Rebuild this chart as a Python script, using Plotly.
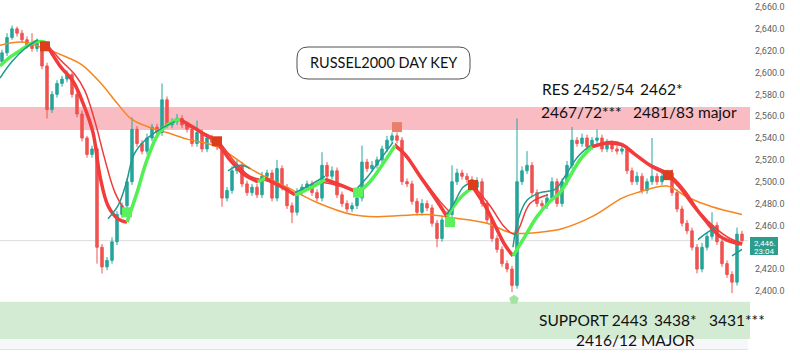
import plotly.graph_objects as go

# ---------------- data ----------------
FIRST_OPEN = 2610
CLOSE = [
    2618, 2632, 2640, 2636, 2630, 2625, 2622, 2628, 2606, 2566,
    2580, 2590, 2594, 2598, 2580, 2562, 2540, 2525, 2530, 2440,
    2422, 2428, 2445, 2470, 2478, 2500, 2548, 2535, 2528, 2540,
    2550, 2545, 2575, 2552, 2555, 2558, 2552, 2548, 2535, 2545,
    2530, 2540, 2536, 2532, 2485, 2492, 2510, 2515, 2498, 2490,
    2495, 2488, 2505, 2508, 2485, 2512, 2495, 2478, 2472, 2490,
    2495, 2498, 2490, 2485, 2515, 2505, 2510, 2488, 2480, 2475,
    2478, 2485, 2518, 2512, 2515, 2520, 2530, 2538, 2542, 2538,
    2500, 2498, 2482, 2472, 2480, 2476, 2462, 2448, 2465, 2470,
    2500, 2508, 2505, 2502, 2495, 2500, 2480, 2465, 2448, 2438,
    2425, 2420, 2405, 2500, 2510, 2515, 2490, 2480, 2478, 2485,
    2500, 2480, 2500, 2515, 2538, 2535, 2540, 2532, 2538, 2540,
    2530, 2535, 2530, 2528, 2530, 2510, 2500, 2505, 2492, 2500,
    2505, 2500, 2505, 2508, 2490, 2475, 2462, 2455, 2440, 2420,
    2440, 2450, 2460, 2445, 2425, 2415, 2408, 2452, 2446,
]
UPPER_WICK = [
    3, 4, 3, 2, 3, 3, 11, 3, 2, 3,
    3, 3, 3, 4, 2, 3, 3, 2, 3, 2,
    3, 3, 4, 3, 3, 3, 11, 3, 3, 4,
    3, 3, 15, 3, 3, 4, 3, 3, 3, 11,
    3, 4, 3, 3, 2, 3, 4, 5, 3, 3,
    3, 3, 4, 3, 3, 8, 3, 3, 3, 4,
    3, 3, 3, 3, 12, 3, 4, 3, 3, 3,
    3, 3, 15, 3, 4, 3, 3, 4, 3, 3,
    3, 3, 3, 3, 4, 3, 3, 3, 4, 3,
    15, 4, 3, 3, 3, 4, 3, 3, 3, 3,
    3, 3, 3, 58, 4, 13, 3, 3, 3, 4,
    4, 3, 3, 4, 12, 3, 4, 3, 3, 8,
    3, 4, 3, 3, 4, 3, 3, 4, 3, 3,
    35, 3, 4, 3, 3, 3, 3, 3, 3, 3,
    4, 3, 12, 3, 3, 3, 3, 6, 3,
]
LOWER_WICK = [
    3, 3, 2, 3, 3, 3, 3, 3, 3, 8,
    3, 3, 3, 3, 3, 3, 3, 3, 3, 15,
    6, 3, 3, 3, 3, 3, 3, 3, 3, 3,
    3, 3, 3, 3, 3, 3, 3, 3, 3, 3,
    3, 3, 3, 3, 8, 3, 3, 3, 3, 3,
    3, 3, 3, 3, 3, 3, 3, 3, 10, 3,
    3, 3, 3, 3, 3, 3, 3, 3, 3, 3,
    3, 3, 3, 3, 3, 3, 3, 3, 3, 3,
    3, 3, 3, 3, 3, 3, 3, 8, 3, 3,
    3, 3, 3, 3, 3, 3, 3, 3, 3, 3,
    3, 3, 6, 3, 3, 3, 3, 3, 3, 3,
    3, 3, 3, 3, 3, 3, 3, 3, 3, 3,
    3, 3, 3, 3, 3, 3, 3, 3, 3, 3,
    3, 3, 3, 3, 3, 3, 3, 3, 3, 4,
    3, 3, 3, 3, 3, 3, 10, 3, 3,
]

# slow (orange) moving average, sampled points (candle index, price)
ORANGE_X = [-0.4, 4, 8, 13, 16, 20, 23, 26, 30, 33, 37, 43, 50, 57, 63, 70, 75,
            85, 90, 97, 102, 108, 112, 118, 124, 127, 133, 137, 142, 148]
ORANGE_Y = [2625, 2628, 2623, 2614, 2607, 2589, 2572, 2557, 2549, 2545, 2539, 2532,
            2511, 2495, 2481, 2470, 2468, 2470, 2467, 2462, 2453, 2454, 2457, 2468,
            2485, 2490, 2496, 2486, 2477, 2470]

# thick trend MA: rising (green) and falling (red) segments
MID_UP = [
    [(-0.4, 2606), (1.6, 2614), (3.6, 2620), (6.6, 2628), (8.6, 2628)],
    [(25, 2463), (27, 2490), (29, 2520), (31.6, 2546), (34.6, 2556), (35.6, 2557)],
    [(51.2, 2500), (52.6, 2503)],
    [(58.6, 2488), (61.6, 2494), (64.6, 2502)],
    [(71.2, 2490), (73.6, 2500), (76, 2515), (78.6, 2533)],
    [(89, 2468), (91.6, 2485), (94.2, 2495)],
    [(102.2, 2432), (104.6, 2450), (107, 2468), (109.6, 2482), (111.6, 2490),
     (113.6, 2505), (115.6, 2520), (118, 2532)],
]
MID_DOWN = [
    [(8.6, 2628), (11.6, 2606), (14.2, 2592), (16.2, 2572), (18.2, 2545), (19.6, 2505),
     (21.2, 2478), (23.2, 2466), (25, 2463)],
    [(35.6, 2557), (38.6, 2549), (40.6, 2543), (43, 2536), (45.6, 2520), (48.6, 2506),
     (51.2, 2500)],
    [(52.6, 2503), (55.6, 2496), (58.6, 2488)],
    [(64.6, 2502), (67.6, 2497), (71.2, 2490)],
    [(78.6, 2533), (80.6, 2525), (83.6, 2505), (86.6, 2485), (89, 2468)],
    [(94.2, 2495), (96.6, 2478), (98.6, 2460), (100.6, 2442), (102.2, 2432)],
    [(118, 2532), (121.6, 2536), (124, 2534), (126.6, 2525), (129.6, 2515), (133.2, 2506),
     (135.6, 2495), (138, 2480), (140.6, 2465), (143.6, 2450), (146.6, 2444), (148, 2443)],
]
# fast MA (teal, rising parts)
FAST_UP = [
    [(-0.4, 2595), (2, 2610), (4.6, 2622), (7.2, 2630)],
    [(21.2, 2466), (23.2, 2478), (24.8, 2498), (26.4, 2525), (28.6, 2538), (31.6, 2548),
     (34.6, 2555)],
    [(45.2, 2510), (47.6, 2515), (49.6, 2512)],
    [(58.6, 2490), (61.6, 2497), (64.6, 2505)],
    [(70.6, 2492), (73.2, 2505), (75.6, 2520), (78.2, 2536)],
    [(89, 2470), (90.6, 2482), (92.2, 2495), (94.2, 2500)],
    [(102.2, 2440), (103.2, 2465), (105, 2483), (107.6, 2490), (110.6, 2493), (112.6, 2505),
     (115, 2522), (117.6, 2533)],
    [(139.2, 2447), (140.6, 2452), (142.6, 2458)],
    [(146, 2432), (148, 2438)],
]
# lagging thin red MA (falling parts)
SLOW_DOWN = [
    [(8.6, 2628), (11.6, 2612), (14.6, 2598), (16.6, 2583), (18.6, 2555), (20.6, 2520),
     (22.6, 2490), (25, 2470)],
    [(36.6, 2552), (39.6, 2546), (43, 2538), (46.6, 2518), (49.6, 2505), (53.6, 2500),
     (57.6, 2492)],
    [(63.6, 2500), (67.6, 2496), (71.2, 2490)],
    [(78.6, 2535), (81.6, 2518), (84.6, 2500), (87.6, 2482), (89.6, 2472)],
    [(94.2, 2497), (97.6, 2478), (100.6, 2458), (102.6, 2452), (105.6, 2480), (109.2, 2488)],
    [(119.6, 2535), (124.6, 2532), (128.6, 2518), (133.2, 2508), (136.6, 2492),
     (139.6, 2472), (142.6, 2458), (145.6, 2448), (148, 2444)],
]
SELL_SIGNALS_X = [8.6, 43, 94.2, 133.2]
SELL_SIGNALS_Y = [2624, 2537, 2497, 2506]
SELL_WEAK_X = [79]
SELL_WEAK_Y = [2550]
BUY_SIGNALS_X = [25, 71.2, 89.6]
BUY_SIGNALS_Y = [2472, 2490, 2463]
BUY_WEAK_X = [102.4]
BUY_WEAK_Y = [2392]

RES_ZONE = (2547.4, 2568.4)
SUPPORT_ZONE = (2356, 2390)
LAST_PRICE = 2446
Y_TICKS = [2400, 2420, 2460, 2480, 2500, 2520, 2540, 2560, 2580, 2600, 2620, 2640, 2660]

TITLE = "RUSSEL2000 DAY KEY"
# (text, left pixel, centre pixel) chunks of the hand-written notes
NOTE_CHUNKS = [
    ("RES 2452/54", 540, 89), ("2462*", 638, 89),
    ("2467/72***", 539, 112), ("2481/83 major", 631, 112),
    ("SUPPORT 2443", 537, 320), ("3438*", 652, 320), ("3431***", 707, 320),
    ("2416/12 MAJOR", 574, 340),
]

# ---------------- figure ----------------
W, H = 800, 361
PLOT_W, PLOT_H = 748, 349


def px(xp):
    return xp / PLOT_W


def py(yp):
    return 1 - yp / PLOT_H


opens = [FIRST_OPEN] + CLOSE[:-1]
highs = [max(o, c) + u for o, c, u in zip(opens, CLOSE, UPPER_WICK)]
lows = [min(o, c) - l for o, c, l in zip(opens, CLOSE, LOWER_WICK)]
idx = list(range(len(CLOSE)))

fig = go.Figure()

fig.add_trace(go.Candlestick(
    x=idx, open=opens, high=highs, low=lows, close=CLOSE,
    increasing=dict(line=dict(color="#26a69a", width=1), fillcolor="#26a69a"),
    decreasing=dict(line=dict(color="#ef5350", width=1), fillcolor="#ef5350"),
    whiskerwidth=0, showlegend=False, hoverinfo="skip",
))

fig.add_trace(go.Scatter(x=ORANGE_X, y=ORANGE_Y, mode="lines",
                         line=dict(color="#f5861f", width=1.5, shape="spline"),
                         showlegend=False, hoverinfo="skip"))


def add_segments(segs, color, width):
    for s in segs:
        fig.add_trace(go.Scatter(x=[p[0] for p in s], y=[p[1] for p in s], mode="lines",
                                 line=dict(color=color, width=width, shape="spline"),
                                 showlegend=False, hoverinfo="skip"))


add_segments(SLOW_DOWN, "#f03a3a", 1.5)
add_segments(MID_DOWN, "#f23b3b", 3.5)
add_segments(MID_UP, "#52f052", 3.5)
add_segments(FAST_UP, "#1f9a8c", 1.5)

fig.add_trace(go.Scatter(x=SELL_SIGNALS_X, y=SELL_SIGNALS_Y, mode="markers",
                         marker=dict(symbol="square", size=10, color="#dc3e1c"),
                         showlegend=False, hoverinfo="skip"))
fig.add_trace(go.Scatter(x=SELL_WEAK_X, y=SELL_WEAK_Y, mode="markers",
                         marker=dict(symbol="square", size=10, color="#e8806c"),
                         showlegend=False, hoverinfo="skip"))
fig.add_trace(go.Scatter(x=BUY_SIGNALS_X, y=BUY_SIGNALS_Y, mode="markers",
                         marker=dict(symbol="square", size=10, color="#5cf05c"),
                         showlegend=False, hoverinfo="skip"))
fig.add_trace(go.Scatter(x=BUY_WEAK_X, y=BUY_WEAK_Y, mode="markers",
                         marker=dict(symbol="pentagon", size=10, color="#a4e2a4"),
                         showlegend=False, hoverinfo="skip"))

shapes = [
    dict(type="rect", xref="paper", yref="y", x0=0, x1=px(750), y0=RES_ZONE[0], y1=RES_ZONE[1],
         fillcolor="#f9bcc3", line=dict(width=0), layer="below"),
    dict(type="rect", xref="paper", yref="y", x0=0, x1=px(750), y0=SUPPORT_ZONE[0],
         y1=SUPPORT_ZONE[1], fillcolor="#d3ead3", line=dict(width=0), layer="below"),
    dict(type="rect", xref="paper", yref="paper", x0=0, x1=1, y0=0, y1=py(339),
         fillcolor="#f6f7f9", line=dict(width=0), layer="below"),
    dict(type="line", xref="paper", yref="y", x0=0, x1=1, y0=LAST_PRICE, y1=LAST_PRICE,
         line=dict(color="#dcdcdc", width=1), layer="below"),
]

x0, x1, yb, yt = px(297), px(470), py(79), py(47)
rx, ry = 11 / PLOT_W, 11 / PLOT_H
path = (f"M {x0+rx},{yt} L {x1-rx},{yt} Q {x1},{yt} {x1},{yt-ry} L {x1},{yb+ry} "
        f"Q {x1},{yb} {x1-rx},{yb} L {x0+rx},{yb} Q {x0},{yb} {x0},{yb+ry} "
        f"L {x0},{yt-ry} Q {x0},{yt} {x0+rx},{yt} Z")
shapes.append(dict(type="path", xref="paper", yref="paper", path=path,
                   fillcolor="white", line=dict(color="#505050", width=1), layer="above"))
# price tag
shapes.append(dict(type="rect", xref="paper", yref="paper", x0=px(750), x1=px(778),
                   y0=py(255), y1=py(237), fillcolor="#2b9c8e", line=dict(width=0),
                   layer="above"))

txt_font = dict(family="Lato, 'Open Sans', sans-serif", size=15.5, color="#111111")
annotations = [
    dict(text=TITLE, xref="paper", yref="paper", x=px(384), y=py(63), showarrow=False,
         xanchor="center", yanchor="middle",
         font=dict(family="Lato, sans-serif", size=14.5, color="#111111")),
]
for text, lx, cy in NOTE_CHUNKS:
    annotations.append(dict(text=text, xref="paper", yref="paper", x=px(lx), y=py(cy),
                            showarrow=False, xanchor="left", yanchor="middle",
                            font=txt_font))
annotations += [
    dict(text="2,446.", xref="paper", yref="paper", x=px(752), y=py(243), showarrow=False,
         xanchor="left", yanchor="middle",
         font=dict(family="Roboto, sans-serif", size=8, color="white")),
    dict(text="23:04", xref="paper", yref="paper", x=px(752), y=py(251), showarrow=False,
         xanchor="left", yanchor="middle",
         font=dict(family="Roboto, sans-serif", size=8, color="white")),
]

fig.update_layout(
    width=W, height=H,
    margin=dict(l=0, r=W - PLOT_W, t=0, b=H - PLOT_H),
    paper_bgcolor="white", plot_bgcolor="white",
    shapes=shapes, annotations=annotations,
    showlegend=False,
    xaxis=dict(range=[-0.4, 149.2], showgrid=False, zeroline=False, showticklabels=False,
               showline=True, linecolor="#e0e3eb", linewidth=1,
               rangeslider=dict(visible=False), fixedrange=True),
    yaxis=dict(range=[2346.8, 2666.4], side="right", showgrid=False, zeroline=False,
               tickvals=Y_TICKS, tickformat=",.1f", ticks="",
               tickfont=dict(family="Roboto, sans-serif", size=9, color="#606060"),
               ticklabelstandoff=6, fixedrange=True),
)

fig.write_html("out.html")
